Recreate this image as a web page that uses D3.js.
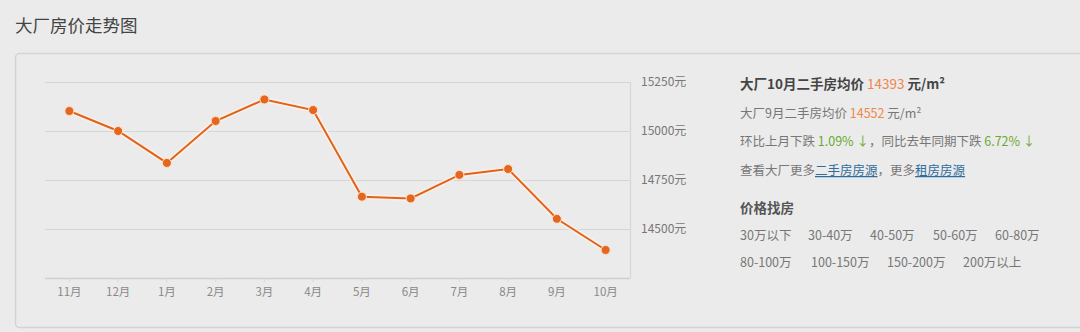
<!DOCTYPE html>
<html>
<head>
<meta charset="utf-8">
<script src="https://cdn.jsdelivr.net/npm/d3@7/dist/d3.min.js"></script>
<style>
  html, body { margin: 0; padding: 0; background: #ebebeb; }
  body { width: 1080px; height: 332px; overflow: hidden; position: relative;
         font-family: "Noto Sans CJK SC", "Noto Sans", sans-serif; }
  svg { display: block; }
</style>
</head>
<body>
<div id="chart"></div>
<script>
// ---- Data ----
const months = ['11月', '12月', '1月', '2月', '3月', '4月', '5月', '6月', '7月', '8月', '9月', '10月'];
const prices = [15102, 15000, 14837, 15051, 15161, 15107, 14665, 14656, 14776, 14806, 14552, 14393];
const yTicks = [14250, 14500, 14750, 15000, 15250];
const priceRanges1 = ['30万以下', '30-40万', '40-50万', '50-60万', '60-80万'];
const priceRanges2 = ['80-100万', '100-150万', '150-200万', '200万以上'];

const W = 1080, H = 332;
const svg = d3.select('#chart').append('svg')
  .attr('width', W).attr('height', H);

// ---- Title ----
svg.append('text')
  .attr('x', 15).attr('y', 32)
  .attr('font-size', 17.5).attr('fill', '#444')
  .text('大厂房价走势图');

// ---- Panel ----
svg.append('rect')
  .attr('x', 15.5).attr('y', 53.5)
  .attr('width', 1080).attr('height', 274)
  .attr('rx', 4)
  .attr('fill', '#ebebeb')
  .attr('stroke', '#d4d4d4').attr('stroke-width', 1.5);

// ---- Scales ----
const plot = { left: 45, right: 630, top: 82, bottom: 278 };
const x = d3.scaleBand().domain(months).range([plot.left, plot.right]);
const y = d3.scaleLinear().domain([14250, 15250]).range([plot.bottom, plot.top]);

const g = svg.append('g');

// gridlines
g.selectAll('.grid')
  .data(yTicks.filter(d => d !== 14250))
  .join('line')
  .attr('x1', plot.left).attr('x2', plot.right)
  .attr('y1', d => Math.round(y(d)) + 0.5).attr('y2', d => Math.round(y(d)) + 0.5)
  .attr('stroke', '#d6d6d6').attr('stroke-width', 1.2);

// right border
g.append('line')
  .attr('x1', plot.right + 0.5).attr('x2', plot.right + 0.5)
  .attr('y1', plot.top).attr('y2', plot.bottom)
  .attr('stroke', '#d6d6d6').attr('stroke-width', 1.2);

// x axis
const xAxis = g.append('g')
  .attr('transform', `translate(0,${plot.bottom})`)
  .call(d3.axisBottom(x).tickSize(4).tickPadding(6));
xAxis.select('.domain').attr('stroke', '#cfcfcf').attr('stroke-width', 1.5)
  .attr('d', `M${plot.left},0.5H${plot.right}`);
xAxis.selectAll('.tick line').attr('stroke', '#d8d8d8');
xAxis.selectAll('.tick text')
  .attr('fill', '#888').attr('font-size', 11.5)
  .attr('font-family', '"Noto Sans CJK SC", sans-serif');

// y axis labels (right)
const yAxis = g.append('g')
  .attr('transform', `translate(${plot.right},0)`)
  .call(d3.axisRight(y).tickValues(yTicks.filter(d => d !== 14250))
    .tickSize(0).tickPadding(11).tickFormat(d => d + '元'));
yAxis.select('.domain').remove();
yAxis.selectAll('.tick text')
  .attr('fill', '#777').attr('font-size', 12)
  .attr('font-family', '"Noto Sans CJK SC", sans-serif');

// ---- Line ----
const line = d3.line()
  .x((d, i) => x(months[i]) + x.bandwidth() / 2)
  .y(d => y(d));

g.append('path')
  .datum(prices)
  .attr('d', line)
  .attr('fill', 'none')
  .attr('stroke', '#fff3e8').attr('stroke-width', 5)
  .attr('stroke-opacity', 0.8);

g.append('path')
  .datum(prices)
  .attr('d', line)
  .attr('fill', 'none')
  .attr('stroke', '#e0631c').attr('stroke-width', 2);

g.selectAll('.dot')
  .data(prices)
  .join('circle')
  .attr('cx', (d, i) => x(months[i]) + x.bandwidth() / 2)
  .attr('cy', d => y(d))
  .attr('r', 4.5)
  .attr('fill', '#e5661c')
  .attr('stroke', '#fbe3d2').attr('stroke-width', 1);

// ---- Info text ----
const info = svg.append('g').attr('font-family', '"Noto Sans CJK SC", sans-serif');

const t1 = info.append('text').attr('x', 740).attr('y', 89).attr('font-size', 13.5);
t1.append('tspan').attr('font-weight', 'bold').attr('fill', '#444').text('大厂10月二手房均价 ');
t1.append('tspan').attr('fill', '#f0874a').text('14393');
t1.append('tspan').attr('font-weight', 'bold').attr('fill', '#444').text(' 元/m²');

const t2 = info.append('text').attr('x', 740).attr('y', 118).attr('font-size', 12.5).attr('fill', '#777');
t2.append('tspan').text('大厂9月二手房均价 ');
t2.append('tspan').attr('fill', '#f0874a').text('14552');
t2.append('tspan').text(' 元/m²');

const t3 = info.append('text').attr('x', 740).attr('y', 146).attr('font-size', 12.5).attr('fill', '#777');
t3.append('tspan').text('环比上月下跌 ');
t3.append('tspan').attr('fill', '#6aaa2e').text('1.09% ↓');
t3.append('tspan').text('，同比去年同期下跌 ');
t3.append('tspan').attr('fill', '#6aaa2e').text('6.72% ↓');

const t4 = info.append('text').attr('x', 740).attr('y', 175).attr('font-size', 12.5).attr('fill', '#777');
t4.append('tspan').text('查看大厂更多');
t4.append('tspan').attr('fill', '#2f6d9e').attr('text-decoration', 'underline').text('二手房房源');
t4.append('tspan').text('，更多');
t4.append('tspan').attr('fill', '#2f6d9e').attr('text-decoration', 'underline').text('租房房源');

info.append('text').attr('x', 740).attr('y', 213)
  .attr('font-size', 13.5).attr('font-weight', 'bold').attr('fill', '#555')
  .text('价格找房');

const row1X = [740, 808, 870, 933, 995];
const row2X = [740, 811, 887, 963];
info.selectAll('.r1').data(priceRanges1).join('text')
  .attr('x', (d, i) => row1X[i]).attr('y', 240)
  .attr('font-size', 12.5).attr('fill', '#777').text(d => d);
info.selectAll('.r2').data(priceRanges2).join('text')
  .attr('x', (d, i) => row2X[i]).attr('y', 267)
  .attr('font-size', 12.5).attr('fill', '#777').text(d => d);
</script>
</body>
</html>
